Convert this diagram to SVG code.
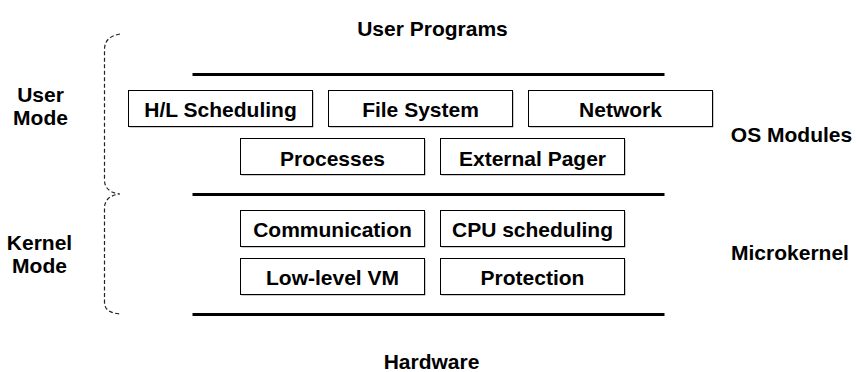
<svg xmlns="http://www.w3.org/2000/svg" width="856" height="372" viewBox="0 0 856 372">
  <style>
    text { font-family: "Liberation Sans", Arial, sans-serif; font-weight: bold; font-size: 21px; fill: #000; text-anchor: middle; }
    .box { fill: #fff; stroke: #000; stroke-width: 1; }
    .shadow { fill: #9a9a9a; }
    .layer { stroke: #000; stroke-width: 3; }
    .brace { fill: none; stroke: #222; stroke-width: 1.2; stroke-dasharray: 4 2.5; }
  </style>

  <!-- layer separators -->
  <g id="connectors">
    <line class="layer" x1="192.5" y1="74.5" x2="664.5" y2="74.5"/>
    <line class="layer" x1="192.5" y1="194.5" x2="664.5" y2="194.5"/>
    <line class="layer" x1="192.5" y1="314.5" x2="664.5" y2="314.5"/>
  </g>

  <!-- mode brace -->
  <g id="brace">
    <path class="brace" d="M120,34 C110,36 104.5,40 104.5,50 L104.5,180 C104.5,188 110,193 120,194 C110,195 104.5,200 104.5,208 L104.5,302 C104.5,310 110,313 120,314"/>
  </g>

  <!-- side and layer labels -->
  <g id="user-programs"><text x="432.5" y="35.5">User Programs</text></g>
  <g id="hardware"><text x="431.5" y="369">Hardware</text></g>
  <g id="user-mode"><text x="40.5" y="101.5">User</text><text x="40.5" y="125">Mode</text></g>
  <g id="kernel-mode"><text x="39.5" y="250">Kernel</text><text x="39.5" y="273">Mode</text></g>
  <g id="os-modules"><text x="791.5" y="141.5">OS Modules</text></g>
  <g id="microkernel"><text x="790" y="260">Microkernel</text></g>

  <!-- OS module boxes -->
  <g id="hl-scheduling">
    <rect class="shadow" x="129.5" y="91.5" width="184" height="36"/>
    <rect class="box" x="128.5" y="90.5" width="184" height="36"/>
    <text x="220.5" y="117">H/L Scheduling</text>
  </g>
  <g id="file-system">
    <rect class="shadow" x="329.5" y="91.5" width="184" height="36"/>
    <rect class="box" x="328.5" y="90.5" width="184" height="36"/>
    <text x="420.5" y="117">File System</text>
  </g>
  <g id="network">
    <rect class="shadow" x="529.5" y="91.5" width="184" height="36"/>
    <rect class="box" x="528.5" y="90.5" width="184" height="36"/>
    <text x="620.5" y="117">Network</text>
  </g>
  <g id="processes">
    <rect class="shadow" x="241.5" y="139.5" width="184" height="36"/>
    <rect class="box" x="240.5" y="138.5" width="184" height="36"/>
    <text x="332.5" y="165.5">Processes</text>
  </g>
  <g id="external-pager">
    <rect class="shadow" x="441.5" y="139.5" width="184" height="36"/>
    <rect class="box" x="440.5" y="138.5" width="184" height="36"/>
    <text x="532.5" y="165.5">External Pager</text>
  </g>

  <!-- microkernel boxes -->
  <g id="communication">
    <rect class="shadow" x="241.5" y="211.5" width="184" height="36"/>
    <rect class="box" x="240.5" y="210.5" width="184" height="36"/>
    <text x="332.5" y="237">Communication</text>
  </g>
  <g id="cpu-scheduling">
    <rect class="shadow" x="441.5" y="211.5" width="184" height="36"/>
    <rect class="box" x="440.5" y="210.5" width="184" height="36"/>
    <text x="532.5" y="237">CPU scheduling</text>
  </g>
  <g id="low-level-vm">
    <rect class="shadow" x="241.5" y="259.5" width="184" height="36"/>
    <rect class="box" x="240.5" y="258.5" width="184" height="36"/>
    <text x="332.5" y="285">Low-level VM</text>
  </g>
  <g id="protection">
    <rect class="shadow" x="441.5" y="259.5" width="184" height="36"/>
    <rect class="box" x="440.5" y="258.5" width="184" height="36"/>
    <text x="532.5" y="285">Protection</text>
  </g>
</svg>
